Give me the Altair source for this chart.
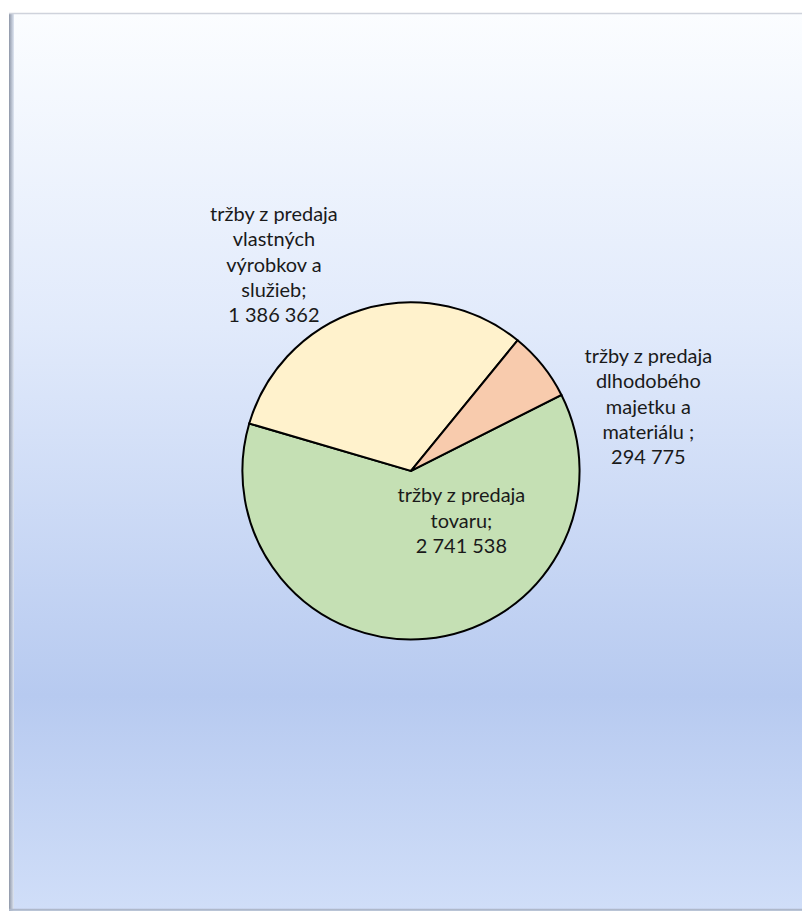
import math
import altair as alt
import pandas as pd

# ---- data ----
categories = [
    "tržby z predaja tovaru",
    "tržby z predaja vlastných výrobkov a služieb",
    "tržby z predaja dlhodobého majetku a materiálu",
]
label_lines = [
    ["tržby z predaja", "tovaru;"],
    ["tržby z predaja", "vlastných", "výrobkov a", "služieb;"],
    ["tržby z predaja", "dlhodobého", "majetku a", "materiálu ;"],
]
values = [2741538, 1386362, 294775]
colors = ["#C5E0B4", "#FFF2CC", "#F8CBAD"]


def fmt(v):
    return f"{v:,}".replace(",", " ")


df = pd.DataFrame({
    "kategoria": categories,
    "hodnota": values,
    "poradie": list(range(len(values))),
    "popis": ["\n".join(l + [fmt(v)]) for l, v in zip(label_lines, values)],
})

# ---- layout ----
W, H = 795, 904
CX, CY = 403, 463
R = 169
START = math.radians(63.2)
LH = 25.5

theta = alt.Theta("hodnota:Q", stack=True,
                  scale=alt.Scale(range=[START, START + 2 * math.pi]))
color = alt.Color("kategoria:N", legend=None,
                  scale=alt.Scale(domain=categories, range=colors))
order = alt.Order("poradie:Q")

bg_data = alt.Data(values=[{"k": 1}])

background = alt.Chart(bg_data).mark_rect(
    fill=alt.Gradient(
        gradient="linear", x1=0, y1=0, x2=0, y2=1,
        stops=[
            alt.GradientStop(offset=0, color="#fbfdff"),
            alt.GradientStop(offset=0.35, color="#e1eafb"),
            alt.GradientStop(offset=0.76, color="#b7caf0"),
            alt.GradientStop(offset=1, color="#d0def8"),
        ],
    )
).encode(x=alt.value(0), x2=alt.value(W), y=alt.value(4), y2=alt.value(H))

left_edge = alt.Chart(bg_data).mark_rect(
    fill=alt.Gradient(
        gradient="linear", x1=0, y1=0, x2=1, y2=0,
        stops=[
            alt.GradientStop(offset=0, color="#8e97a8"),
            alt.GradientStop(offset=1, color="#dfe6f2"),
        ],
    )
).encode(x=alt.value(0), x2=alt.value(5), y=alt.value(4), y2=alt.value(H))

top_edge = alt.Chart(bg_data).mark_rule(color="#cfd3dc", strokeWidth=1.5).encode(
    x=alt.value(0), x2=alt.value(W), y=alt.value(4.5))
bottom_edge = alt.Chart(bg_data).mark_rule(color="#aeb8ca", strokeWidth=2).encode(
    x=alt.value(0), x2=alt.value(W), y=alt.value(H - 1))

base = alt.Chart(df)

pie = base.mark_arc(outerRadius=R, stroke="#000000", strokeWidth=2).encode(
    theta=theta, color=color, order=order,
    x=alt.value(CX), y=alt.value(CY),
)

text_style = dict(font="Lato", fontSize=20, lineHeight=LH, lineBreak="\n",
                  align="center", baseline="middle", color="#1a1a1a")

label_offsets = [  # (radius, dx, dy) per slice label, dy for block centre
    (72, 44, -21),
    (248, -64, 31),
    (245, 47, 90),
]
labels = []
for i, (rad, dx, dy) in enumerate(label_offsets):
    n_lines = len(label_lines[i]) + 1
    labels.append(
        base.mark_text(radius=rad, dx=dx, dy=dy - (n_lines - 1) * LH / 2,
                       **text_style).encode(
            theta=theta, order=order, text="popis:N",
            x=alt.value(CX), y=alt.value(CY),
            opacity=alt.condition(alt.datum.poradie == i, alt.value(1), alt.value(0)),
        )
    )

chart = alt.layer(background, left_edge, top_edge, bottom_edge, pie, *labels).properties(
    width=W, height=H, padding=0, background="#ffffff"
).configure_view(stroke=None)

chart.save("out.html", embed_options={"renderer": "svg", "actions": False})
